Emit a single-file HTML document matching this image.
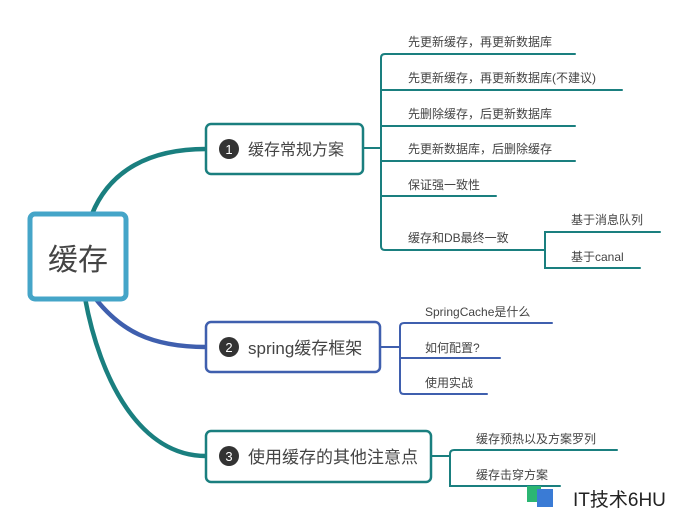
<!DOCTYPE html>
<html><head><meta charset="utf-8"><style>
body{margin:0;background:#fff;width:688px;height:517px;overflow:hidden;font-family:"Liberation Sans","Noto Sans CJK SC",sans-serif;}
svg text{font-family:"Liberation Sans","Noto Sans CJK SC",sans-serif;fill:#444;}
</style></head><body>
<svg width="688" height="517" xmlns="http://www.w3.org/2000/svg">
<g fill="none" stroke-linecap="round">
<path d="M92 214 C110 170 150 149 206 149" stroke="#1a7f7f" stroke-width="4.5"/>
<path d="M95 298 C120 330 150 347 206 347" stroke="#3f5fae" stroke-width="4.5"/>
<path d="M85 298 C100 380 140 456 206 456" stroke="#1a7f7f" stroke-width="4.5"/>
<g stroke="#1a7f7f" stroke-width="2">
<path d="M363 148 H381"/>
<path d="M575 54 H385 Q381 54 381 58 V246 Q381 250 385 250 H545"/>
<path d="M381 90 H622 M381 126 H575 M381 161 H575 M381 196 H496"/>
<path d="M660 232 H545 V268 H640"/>
<path d="M431 456 H450"/>
<path d="M617 450 H454 Q450 450 450 454 V486 H560"/>
</g>
<g stroke="#3f5fae" stroke-width="2">
<path d="M380 347 H400"/>
<path d="M552 323 H404 Q400 323 400 327 V390 Q400 394 404 394 H487"/>
<path d="M400 358 H500"/>
</g>
</g>
<rect x="30" y="214" width="96" height="85" rx="5" fill="#fff" stroke="#45a5c8" stroke-width="5"/>
<text x="78" y="270" font-size="30" text-anchor="middle">缓存</text>
<rect x="206" y="124" width="157" height="50" rx="5" fill="#fff" stroke="#1a7f7f" stroke-width="2.5"/>
<circle cx="229" cy="149" r="10" fill="#333"/><text x="229" y="154" font-size="13" text-anchor="middle" style="fill:#fff">1</text>
<text x="248" y="155" font-size="16">缓存常规方案</text>
<rect x="206" y="322" width="174" height="50" rx="5" fill="#fff" stroke="#3f5fae" stroke-width="2.5"/>
<circle cx="229" cy="347" r="10" fill="#333"/><text x="229" y="352" font-size="13" text-anchor="middle" style="fill:#fff">2</text>
<text x="248" y="354" font-size="17">spring缓存框架</text>
<rect x="206" y="431" width="225" height="51" rx="5" fill="#fff" stroke="#1a7f7f" stroke-width="2.5"/>
<circle cx="229" cy="456" r="10" fill="#333"/><text x="229" y="461" font-size="13" text-anchor="middle" style="fill:#fff">3</text>
<text x="248" y="463" font-size="17">使用缓存的其他注意点</text>
<g font-size="12">
<text x="408" y="46">先更新缓存，再更新数据库</text>
<text x="408" y="82">先更新缓存，再更新数据库(不建议)</text>
<text x="408" y="118">先删除缓存，后更新数据库</text>
<text x="408" y="153">先更新数据库，后删除缓存</text>
<text x="408" y="189">保证强一致性</text>
<text x="408" y="242">缓存和DB最终一致</text>
<text x="571" y="224">基于消息队列</text>
<text x="571" y="261">基于canal</text>
<text x="425" y="316">SpringCache是什么</text>
<text x="425" y="352">如何配置?</text>
<text x="425" y="387">使用实战</text>
<text x="476" y="443">缓存预热以及方案罗列</text>
<text x="476" y="479">缓存击穿方案</text>
</g>
<rect x="527" y="486" width="14" height="16" fill="#2bb673"/>
<rect x="537" y="489" width="16" height="18" fill="#3a7bd5"/>
<text x="573" y="506" font-size="19" style="fill:#222">IT技术6HU</text>
</svg>
</body></html>
